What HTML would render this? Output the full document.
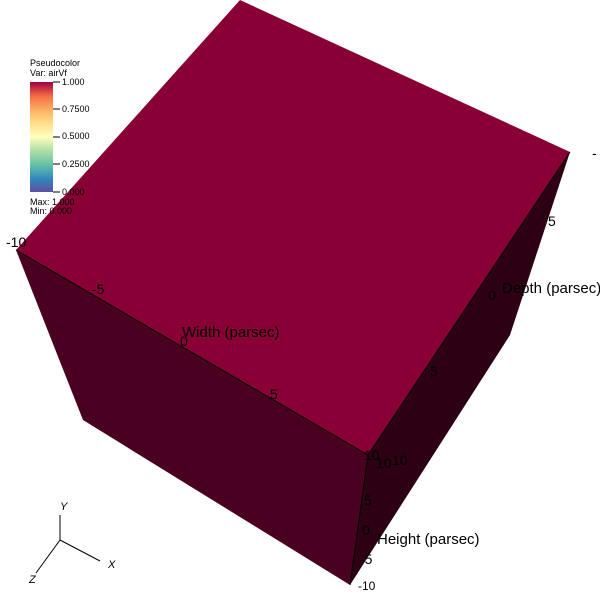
<!DOCTYPE html>
<html><head><meta charset="utf-8"><style>
body{margin:0;background:#fff;width:600px;height:600px;overflow:hidden}
text{font-family:"Liberation Sans",sans-serif}
</style></head><body>
<svg width="600" height="600" viewBox="0 0 600 600">
<defs>
<linearGradient id="cb" x1="0" y1="1" x2="0" y2="0">
<stop offset="0" stop-color="#5e4fa2"/><stop offset="0.12" stop-color="#3288bd"/>
<stop offset="0.25" stop-color="#66c2a5"/><stop offset="0.37" stop-color="#abdda4"/>
<stop offset="0.5" stop-color="#ffffbf"/><stop offset="0.62" stop-color="#fee08b"/>
<stop offset="0.75" stop-color="#fdae61"/><stop offset="0.87" stop-color="#f46d43"/>
<stop offset="1" stop-color="#9e0142"/></linearGradient></defs>
<polygon points="16,250 368,455 350,585 83,420" fill="#4a0020"/>
<polygon points="570,152 510,335 350,585 368,455" fill="#2e0014"/>
<polygon points="240,0 570,152 368,455 16,250" fill="#880036"/>
<g stroke="#000" stroke-width="1">
<line x1="16" y1="250" x2="368" y2="455"/><line x1="368" y1="455" x2="570" y2="152"/><line x1="368" y1="455" x2="350" y2="585"/>
</g>
<g font-size="14" fill="#000">
<text x="6" y="247">-10</text><text x="92" y="294">-5</text><text x="180" y="346">0</text><text x="270" y="399">5</text><text x="364" y="460">10</text>
<text x="182" y="337" font-size="15">Width (parsec)</text>
<text x="376" y="468">10</text><text x="392" y="465">10</text><text x="430" y="376">5</text><text x="488" y="300">0</text><text x="548" y="226">5</text><text x="592" y="158">-</text>
<text x="502" y="293" font-size="15">Depth (parsec)</text>
<text x="364" y="505">5</text><text x="362" y="535">0</text><text x="360" y="564">-5</text><text x="358" y="590" font-size="12">-10</text>
<text x="377" y="544" font-size="15">Height (parsec)</text>
</g>
<g>
<text x="30" y="66" font-size="9">Pseudocolor</text><text x="30" y="76" font-size="9">Var: airVf</text>
<rect x="30" y="82" width="23" height="110" fill="url(#cb)"/>
<g font-size="9"><text x="62" y="85">1.000</text><text x="62" y="112">0.7500</text><text x="62" y="139">0.5000</text><text x="62" y="167">0.2500</text><text x="62" y="195">0.000</text>
<text x="30" y="205">Max:  1.000</text><text x="30" y="214">Min:  0.000</text></g>
<g stroke="#000"><line x1="53" y1="82" x2="60" y2="82"/><line x1="53" y1="109" x2="60" y2="109"/><line x1="53" y1="137" x2="60" y2="137"/><line x1="53" y1="164" x2="60" y2="164"/><line x1="53" y1="192" x2="60" y2="192"/></g>
</g>
<g stroke="#000">
<line x1="60" y1="540" x2="60" y2="515"/><line x1="60" y1="540" x2="100" y2="561"/><line x1="60" y1="540" x2="36" y2="573"/>
<g stroke="none" font-size="11" font-style="italic"><text x="60" y="510">Y</text><text x="108" y="568">X</text><text x="29" y="583">Z</text></g>
</g>
</svg>
</body></html>
